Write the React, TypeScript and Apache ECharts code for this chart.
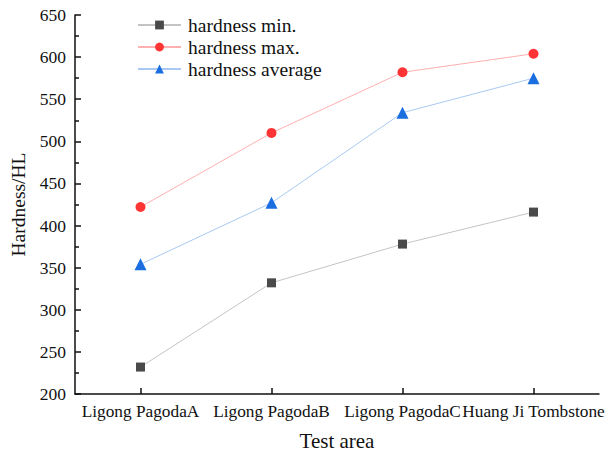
import React, { useEffect, useRef } from "react";
import * as echarts from "echarts";

const categories = ["Ligong PagodaA", "Ligong PagodaB", "Ligong PagodaC", "Huang Ji Tombstone"];
const hardnessMin = [232, 332, 378, 416];
const hardnessMax = [422, 510, 582, 604];
const hardnessAvg = [354, 427, 534, 575];
const yTicks = { min: 200, max: 650, step: 50 };

const FONT = "Liberation Serif";

export default function App() {
  const ref = useRef<HTMLDivElement>(null);
  useEffect(() => {
    if (!ref.current) return;
    const chart = echarts.init(ref.current, undefined, { renderer: "svg" });
    chart.setOption({
      animation: false,
      backgroundColor: "#ffffff",
      textStyle: { fontFamily: FONT },
      grid: { left: 75, top: 15, right: 14, bottom: 57, containLabel: false, outerBoundsMode: "none" },
      legend: {
        orient: "vertical",
        left: 132,
        top: 10,
        itemWidth: 43,
        itemHeight: 11,
        itemGap: 2,
        textStyle: { fontFamily: FONT, fontSize: 19.5, color: "#111", lineHeight: 20, padding: [0, 0, 0, 2] },
        data: ["hardness min.", "hardness max.", "hardness average"],
      },
      xAxis: {
        type: "category",
        data: categories,
        boundaryGap: true,
        name: "Test area",
        nameLocation: "middle",
        nameGap: 36,
        nameTextStyle: { fontFamily: FONT, fontSize: 21, color: "#111" },
        axisLine: { lineStyle: { color: "#111", width: 1.5 } },
        axisTick: { show: true, inside: true, alignWithLabel: true, length: 6, lineStyle: { color: "#111", width: 1.5 } },
        axisLabel: { interval: 0, fontFamily: FONT, fontSize: 17.3, color: "#111", margin: 9, hideOverlap: false },
        splitLine: { show: false },
      },
      yAxis: {
        type: "value",
        min: yTicks.min,
        max: yTicks.max,
        interval: yTicks.step,
        name: "Hardness/HL",
        nameLocation: "middle",
        nameGap: 47,
        nameTextStyle: { fontFamily: FONT, fontSize: 19.5, color: "#111" },
        axisLine: { show: true, lineStyle: { color: "#111", width: 1.5 } },
        axisTick: { show: true, inside: true, length: 6, lineStyle: { color: "#111", width: 1.5 } },
        minorTick: { show: true, splitNumber: 2, length: 4, lineStyle: { color: "#111", width: 1.5 } },
        axisLabel: { fontFamily: FONT, fontSize: 17.5, color: "#111", margin: 9 },
        splitLine: { show: false },
      },
      series: [
        {
          name: "hardness min.",
          type: "line",
          data: hardnessMin,
          symbol: "rect",
          symbolSize: 9,
          itemStyle: { color: "#4a4a4a" },
          lineStyle: { color: "#c4c4c4", width: 1 },
        },
        {
          name: "hardness max.",
          type: "line",
          data: hardnessMax,
          symbol: "circle",
          symbolSize: 10,
          itemStyle: { color: "#ff3535" },
          lineStyle: { color: "#ffb0b0", width: 1 },
        },
        {
          name: "hardness average",
          type: "line",
          data: hardnessAvg,
          symbol: "triangle",
          symbolSize: 12,
          itemStyle: { color: "#1a6ee0" },
          lineStyle: { color: "#a9c9f2", width: 1 },
        },
      ],
    });
    return () => chart.dispose();
  }, []);
  return <div ref={ref} style={{ width: 613, height: 451, position: "absolute", left: 0, top: 0 }} />;
}
